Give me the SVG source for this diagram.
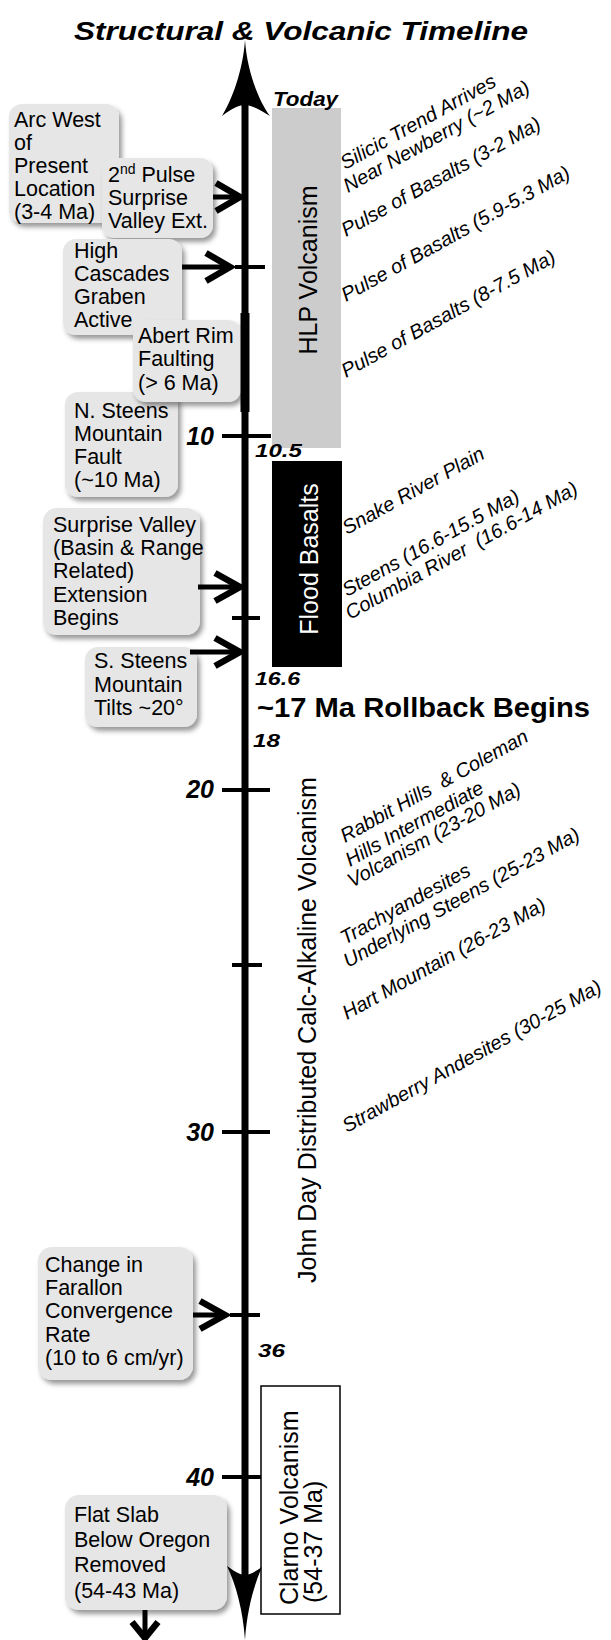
<svg xmlns="http://www.w3.org/2000/svg" width="611" height="1640" viewBox="0 0 611 1640">
<style>
.box{fill:#e6e6e6;filter:url(#sh)}
.bt{font-family:"Liberation Sans",Arial,sans-serif;font-size:21.5px;fill:#000}
.rl{font-family:"Liberation Sans",Arial,sans-serif;font-size:20px;font-style:italic;fill:#000;white-space:pre}
.num{font-family:"Liberation Sans",Arial,sans-serif;font-weight:bold;font-style:italic;fill:#000}
.tick{stroke:#000;stroke-width:4}
.shaft{stroke:#000;stroke-width:5;fill:none}
.chev{stroke:#000;stroke-width:6.5;fill:none;stroke-linejoin:miter;stroke-miterlimit:10}
.vt{font-family:"Liberation Sans",Arial,sans-serif;font-size:25px;fill:#000}
</style>
<defs>
<filter id="sh" x="-20%" y="-20%" width="150%" height="150%">
<feDropShadow dx="3" dy="4" stdDeviation="2.5" flood-color="#000" flood-opacity="0.4"/>
</filter>
</defs>
<rect width="611" height="1640" fill="#fff"/>

<text class="num" x="74" y="40" font-size="25" textLength="454" lengthAdjust="spacingAndGlyphs">Structural &amp; Volcanic Timeline</text>

<!-- range bars -->
<g id="hlp">
<rect x="272" y="108" width="69" height="340" fill="#cccccc"/>
<text class="vt" font-size="26" transform="translate(317,270) rotate(-90)" text-anchor="middle">HLP Volcanism</text>
</g>
<g id="flood">
<rect x="272" y="461" width="70" height="206" fill="#000"/>
<text class="vt" font-size="24.5" style="fill:#fff" transform="translate(318,559) rotate(-90)" text-anchor="middle">Flood Basalts</text>
</g>
<g id="johnday">
<text class="vt" font-size="25.5" transform="translate(316,1030) rotate(-90)" text-anchor="middle">John Day Distributed Calc-Alkaline Volcanism</text>
</g>
<g id="clarno">
<rect x="261" y="1386" width="79" height="228" fill="#fff" stroke="#000" stroke-width="1.5"/>
<text class="vt" font-size="24.5" transform="translate(298,1605) rotate(-90)">Clarno Volcanism</text>
<text class="vt" font-size="24.5" transform="translate(322,1603) rotate(-90)">(54-37 Ma)</text>
</g>

<!-- left boxes -->
<g id="arcwest">
<rect class="box" x="9" y="104" width="110" height="119" rx="13"/>
<text class="bt" x="14" y="127">Arc West</text>
<text class="bt" x="14" y="150">of</text>
<text class="bt" x="14" y="173">Present</text>
<text class="bt" x="14" y="196">Location</text>
<text class="bt" x="14" y="219">(3-4 Ma)</text>
</g>
<g id="pulse2">
<rect class="box" x="102" y="158" width="111" height="80" rx="13"/>
<text class="bt" x="108" y="182">2<tspan font-size="14" dy="-8">nd</tspan><tspan dy="8"> Pulse</tspan></text>
<text class="bt" x="108" y="205">Surprise</text>
<text class="bt" x="108" y="228">Valley Ext.</text>
</g>
<g id="highcascades">
<rect class="box" x="63" y="239" width="119" height="96" rx="13"/>
<text class="bt" x="74" y="258">High</text>
<text class="bt" x="74" y="281">Cascades</text>
<text class="bt" x="74" y="304">Graben</text>
<text class="bt" x="74" y="327">Active</text>
</g>
<g id="nsteens">
<rect class="box" x="65" y="392" width="113" height="105" rx="13"/>
<text class="bt" x="74" y="418">N. Steens</text>
<text class="bt" x="74" y="441">Mountain</text>
<text class="bt" x="74" y="464">Fault</text>
<text class="bt" x="74" y="487">(~10 Ma)</text>
</g>
<g id="abert">
<rect class="box" x="133" y="320" width="108" height="82" rx="13"/>
<text class="bt" x="138" y="343">Abert Rim</text>
<text class="bt" x="138" y="366">Faulting</text>
<text class="bt" x="138" y="390">(&gt; 6 Ma)</text>
</g>
<g id="surprise">
<rect class="box" x="43" y="508" width="157" height="127" rx="14"/>
<text class="bt" x="53" y="532">Surprise Valley</text>
<text class="bt" x="53" y="555">(Basin &amp; Range</text>
<text class="bt" x="53" y="578">Related)</text>
<text class="bt" x="53" y="602">Extension</text>
<text class="bt" x="53" y="625">Begins</text>
</g>
<g id="ssteens">
<rect class="box" x="85" y="647" width="112" height="80" rx="13"/>
<text class="bt" x="94" y="668">S. Steens</text>
<text class="bt" x="94" y="692">Mountain</text>
<text class="bt" x="94" y="715">Tilts ~20°</text>
</g>
<g id="farallon">
<rect class="box" x="38" y="1247" width="155" height="133" rx="14"/>
<text class="bt" x="45" y="1272">Change in</text>
<text class="bt" x="45" y="1295">Farallon</text>
<text class="bt" x="45" y="1318">Convergence</text>
<text class="bt" x="45" y="1342">Rate</text>
<text class="bt" x="45" y="1365">(10 to 6 cm/yr)</text>
</g>
<g id="flatslab">
<rect class="box" x="65" y="1495" width="162" height="115" rx="14"/>
<text class="bt" font-size="22" x="74" y="1522">Flat Slab</text>
<text class="bt" font-size="22" x="74" y="1547">Below Oregon</text>
<text class="bt" font-size="22" x="74" y="1572">Removed</text>
<text class="bt" font-size="22" x="74" y="1598">(54-43 Ma)</text>
</g>

<!-- timeline axis -->
<g id="axis">
<line x1="245" y1="100" x2="245" y2="1578" stroke="#000" stroke-width="7"/>
<rect x="240.5" y="313" width="9" height="99" fill="#000"/>
<path d="M245,40 C243,70 232,100 222,116 C232,108 240,105 245,105 C250,105 258,108 270,116 C258,100 247,70 245,40 Z" fill="#000"/>
<path d="M245,1640 C243,1610 236,1585 227,1566 C235,1572 241,1575 245,1575 C249,1575 255,1572 262,1567 C254,1585 247,1610 245,1640 Z" fill="#000"/>
<line class="tick" x1="235" y1="267" x2="265" y2="267"/>
<line class="tick" x1="222" y1="436" x2="271" y2="436"/>
<line class="tick" x1="232" y1="618" x2="260" y2="618"/>
<line class="tick" x1="222" y1="790" x2="270" y2="790"/>
<line class="tick" x1="232" y1="965" x2="262" y2="965"/>
<line class="tick" x1="222" y1="1132" x2="270" y2="1132"/>
<line class="tick" x1="230" y1="1315" x2="260" y2="1315"/>
<line class="tick" x1="222" y1="1477" x2="261" y2="1477"/>
<text class="num" font-size="25" x="214" y="445" text-anchor="end">10</text>
<text class="num" font-size="25" x="214" y="798" text-anchor="end">20</text>
<text class="num" font-size="25" x="214" y="1141" text-anchor="end">30</text>
<text class="num" font-size="25" x="214" y="1486" text-anchor="end">40</text>
<text class="num" font-size="21" x="273" y="106" textLength="65" lengthAdjust="spacingAndGlyphs">Today</text>
<text class="num" font-size="19" x="255" y="457" textLength="47" lengthAdjust="spacingAndGlyphs">10.5</text>
<text class="num" font-size="19" x="255" y="685" textLength="45" lengthAdjust="spacingAndGlyphs">16.6</text>
<text class="num" font-size="19" x="253" y="747" textLength="27" lengthAdjust="spacingAndGlyphs">18</text>
<text class="num" font-size="19" x="258" y="1357" textLength="27" lengthAdjust="spacingAndGlyphs">36</text>
</g>

<text id="rollback" x="257" y="717" font-family="Liberation Sans, Arial, sans-serif" font-weight="bold" font-size="28" textLength="333" lengthAdjust="spacingAndGlyphs">~17 Ma Rollback Begins</text>

<!-- right rotated labels -->
<g id="events">
<text class="rl" transform="translate(345,170) rotate(-29)">Silicic Trend Arrives</text>
<text class="rl" transform="translate(348,193) rotate(-29)">Near Newberry (~2 Ma)</text>
<text class="rl" transform="translate(346,237) rotate(-29)">Pulse of Basalts (3-2 Ma)</text>
<text class="rl" transform="translate(346,302) rotate(-29)">Pulse of Basalts (5.9-5.3 Ma)</text>
<text class="rl" transform="translate(346,378) rotate(-29)">Pulse of Basalts (8-7.5 Ma)</text>
<text class="rl" transform="translate(347,535) rotate(-29)">Snake River Plain</text>
<text class="rl" transform="translate(347,597) rotate(-29)">Steens (16.6-15.5 Ma)</text>
<text class="rl" transform="translate(350,620) rotate(-29)">Columbia River  (16.6-14 Ma)</text>
<text class="rl" transform="translate(345,843) rotate(-29)">Rabbit Hills  &amp; Coleman</text>
<text class="rl" transform="translate(350,867) rotate(-29)">Hills Intermediate</text>
<text class="rl" transform="translate(352,888) rotate(-29)">Volcanism (23-20 Ma)</text>
<text class="rl" transform="translate(345,945) rotate(-29)">Trachyandesites</text>
<text class="rl" transform="translate(348,968) rotate(-29)">Underlying Steens (25-23 Ma)</text>
<text class="rl" transform="translate(347,1020) rotate(-29)">Hart Mountain (26-23 Ma)</text>
<text class="rl" transform="translate(347,1133) rotate(-29)">Strawberry Andesites (30-25 Ma)</text>
</g>

<!-- connectors -->
<g id="connectors">
<line class="shaft" x1="213" y1="197" x2="237" y2="197"/>
<polyline class="chev" points="216,183 240,197 216,211"/>
<line class="shaft" x1="182" y1="267" x2="226" y2="267"/>
<polyline class="chev" points="206,253 230,267 206,281"/>
<line class="shaft" x1="198" y1="587" x2="236" y2="587"/>
<polyline class="chev" points="215,573 240,587 215,601"/>
<line class="shaft" x1="190" y1="652" x2="236" y2="652"/>
<polyline class="chev" points="215,638 240,652 215,666"/>
<line class="shaft" x1="193" y1="1315" x2="221" y2="1315"/>
<polyline class="chev" points="200,1301 225,1315 200,1329"/>
<line class="shaft" x1="145" y1="1610" x2="145" y2="1640"/>
<polyline class="chev" points="132,1622 145,1638 158,1622"/>
</g>
</svg>
